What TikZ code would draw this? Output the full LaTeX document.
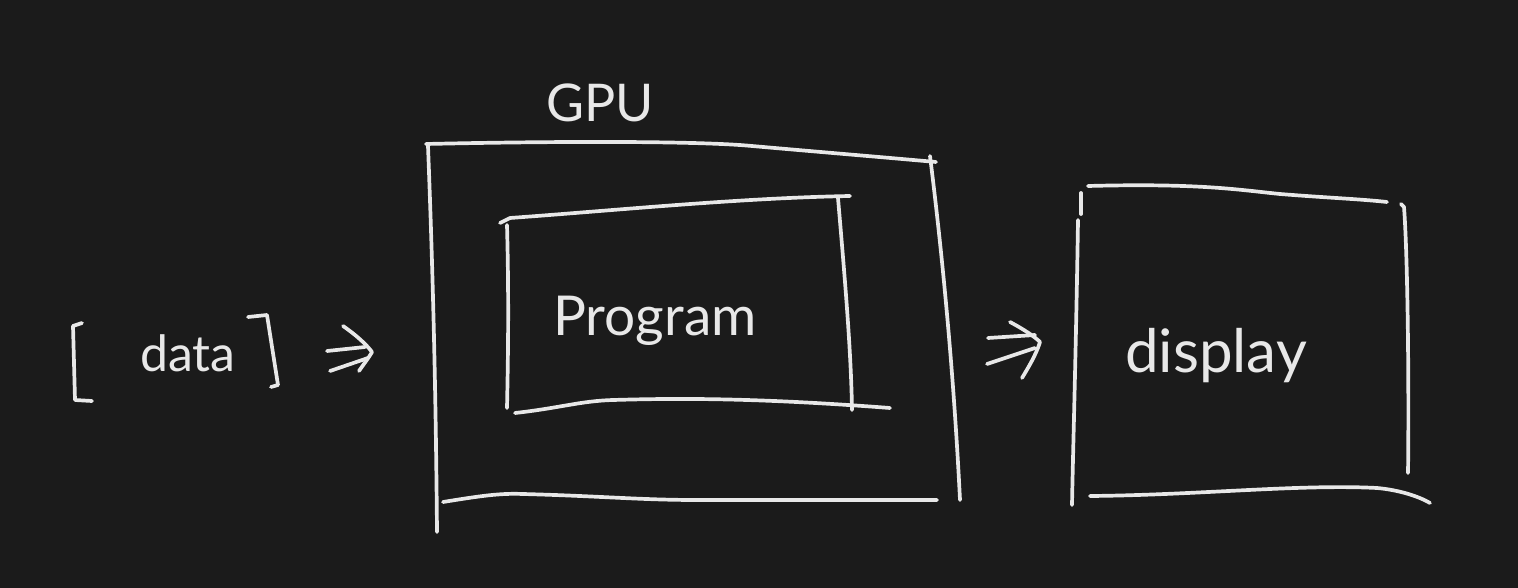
\documentclass[tikz,border=0pt]{standalone}
\usepackage{fontspec}
\setmainfont{Lato}
\definecolor{bg}{HTML}{1B1B1B}
\definecolor{ink}{HTML}{E8E8E8}
\begin{document}
\begin{tikzpicture}[x=1pt,y=-1pt,
  stroke/.style={draw=ink,line width=3.7pt,line cap=round,line join=round},
  lbl/.style={text=ink,inner sep=0pt,anchor=base}]
\fill[bg] (0,0) rectangle (1518,588);
\useasboundingbox (0,0) rectangle (1518,588);

% labels
\node[lbl,font=\fontsize{50}{60}\selectfont] (data) at (188,371) {data};
\node[lbl,font=\fontsize{52}{60}\selectfont] (gpu) at (600,122) {GPU};
\node[lbl,font=\fontsize{55}{60}\selectfont] (prog) at (655,335) {Program};
\node[lbl,font=\fontsize{60}{66}\selectfont] (disp) at (1216,372) {display};

% brackets around data
\draw[stroke] (82,323) -- (73,326) -- (75,400) -- (92,401);
\draw[stroke] (248,317) -- (267,315) -- (278,385) -- (271,387);

% arrow 1
\draw[stroke] (327,351) -- (365,347);
\draw[stroke] (330,371) -- (368,358);
\draw[stroke] (343,326) .. controls (356,335) and (366,344) .. (372,352) .. controls (368,359) and (363,365) .. (359,371);

% GPU outer box
\draw[stroke] (426,144) .. controls (560,141) and (700,141) .. (752,146) .. controls (820,152) and (880,157) .. (936,162);
\draw[stroke] (428,146) .. controls (434,300) and (436,420) .. (437,532);
\draw[stroke] (930,156) .. controls (948,300) and (956,420) .. (960,500);
\draw[stroke] (443,502) .. controls (480,496) and (500,493) .. (523,494) .. controls (600,496) and (640,500) .. (697,500) .. controls (800,500) and (880,500) .. (937,500);

% Program inner box
\draw[stroke] (500,223) -- (510,218) .. controls (620,210) and (740,198) .. (850,196);
\draw[stroke] (507,225) .. controls (509,300) and (508,360) .. (507,408);
\draw[stroke] (838,198) .. controls (845,280) and (851,350) .. (852,410);
\draw[stroke] (515,413) .. controls (560,408) and (580,401) .. (613,400) .. controls (680,398) and (760,398) .. (890,408);

% arrow 2
\draw[stroke] (988,338) -- (1035,335);
\draw[stroke] (987,364) -- (1035,348);
\draw[stroke] (1010,322) .. controls (1025,330) and (1035,337) .. (1040,342) .. controls (1036,355) and (1028,368) .. (1022,378);

% display box
\draw[stroke] (1088,186) .. controls (1200,183) and (1240,190) .. (1280,194) .. controls (1330,198) and (1360,199) .. (1387,202);
\draw[stroke] (1081,193) -- (1081,214);
\draw[stroke] (1078,220) .. controls (1076,350) and (1073,450) .. (1072,505);
\draw[stroke] (1401,204) -- (1404,207) .. controls (1408,260) and (1409,400) .. (1408,473);
\draw[stroke] (1090,496) .. controls (1200,495) and (1300,484) .. (1377,488) .. controls (1400,490) and (1420,497) .. (1430,503);
\end{tikzpicture}
\end{document}
